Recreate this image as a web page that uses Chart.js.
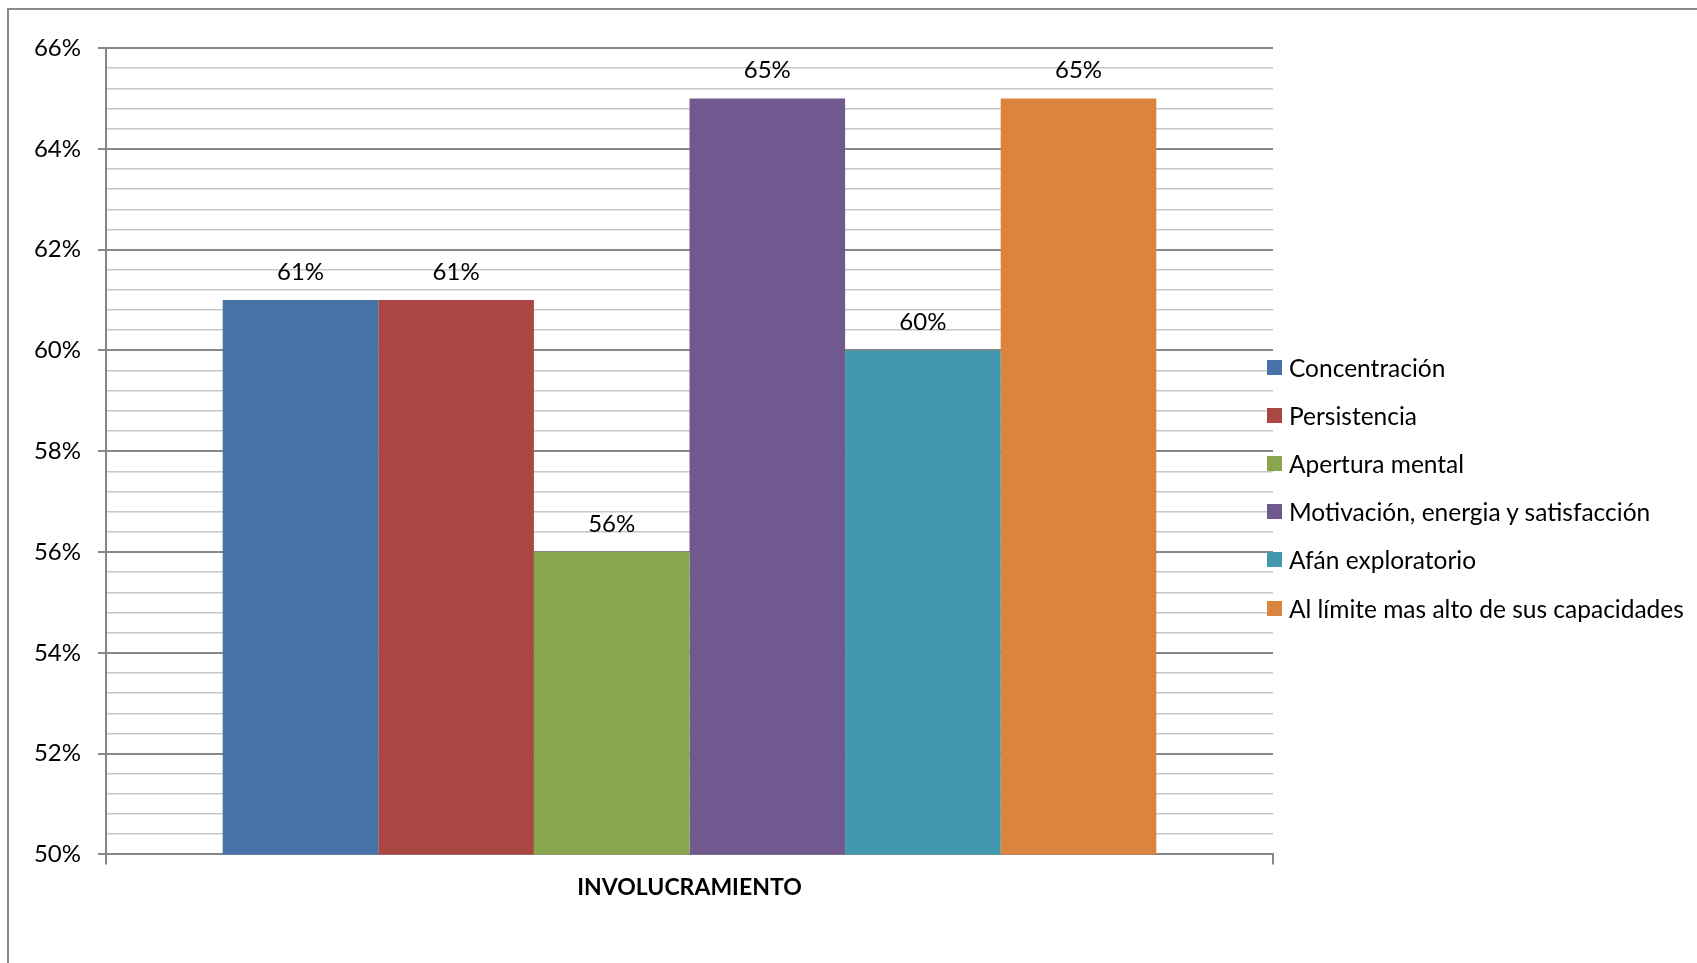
<!DOCTYPE html>
<html>
<head>
<meta charset="utf-8">
<script src="https://cdn.jsdelivr.net/npm/chart.js@4.4.1/dist/chart.umd.min.js"></script>
<style>
body { margin: 0; background: #fff; overflow: hidden; font-family: Lato, sans-serif; }
#frame { position: absolute; left: 7px; top: 8px; width: 1800px; height: 1100px;
         border-left: 2px solid #8a8a8a; border-top: 2px solid #8a8a8a; }
#chart { position: absolute; left: 0; top: 0; }
#legend { position: absolute; left: 1267px; top: 343px; margin: 0; padding: 0; list-style: none; }
#legend li { height: 48.2px; display: flex; align-items: center; font-size: 24.5px; color: #000; white-space: nowrap; }
#legend .box { width: 15px; height: 15px; margin-right: 7px; display: inline-block; }
</style>
</head>
<body>
<div id="frame"></div>
<canvas id="chart" width="1697" height="963"></canvas>
<ul id="legend"></ul>
<script>
const categories = ['INVOLUCRAMIENTO'];
const seriesNames = [
    'Concentración',
    'Persistencia',
    'Apertura mental',
    'Motivación, energia y satisfacción',
    'Afán exploratorio',
    'Al límite mas alto de sus capacidades'
];
const seriesValues = [61, 61, 56, 65, 60, 65];
const seriesColors = ['#4572A7', '#AA4643', '#89A54E', '#71588F', '#4198AF', '#DB843D'];
const yMin = 50, yMax = 66, yMajorStep = 2, yMinorStep = 0.4;

function isMajor(v) {
    return Math.abs(v / yMajorStep - Math.round(v / yMajorStep)) < 1e-6;
}

// value text above each bar
const valueLabels = {
    id: 'valueLabels',
    afterDatasetsDraw(chart) {
        const ctx = chart.ctx;
        ctx.save();
        ctx.font = '24px Lato';
        ctx.fillStyle = '#000';
        ctx.textAlign = 'center';
        ctx.textBaseline = 'middle';
        chart.data.datasets.forEach((ds, i) => {
            chart.getDatasetMeta(i).data.forEach((bar, j) => {
                ctx.fillText(ds.data[j] + '%', bar.x, bar.y - 28);
            });
        });
        ctx.restore();
    }
};

const datasets = seriesNames.map((name, i) => ({
    label: name,
    data: [seriesValues[i]],
    backgroundColor: seriesColors[i],
    borderWidth: 0,
    categoryPercentage: 0.8,
    barPercentage: 1.0
}));

const chart = new Chart(document.getElementById('chart').getContext('2d'), {
    type: 'bar',
    data: { labels: categories, datasets: datasets },
    plugins: [valueLabels],
    options: {
        responsive: false,
        animation: false,
        layout: { padding: { left: 10, top: 48, right: 424, bottom: 53 } },
        plugins: {
            legend: { display: false },
            tooltip: { enabled: false }
        },
        scales: {
            x: {
                offset: true,
                grid: {
                    display: true,
                    drawOnChartArea: false,
                    offset: true,
                    tickLength: 10,
                    color: '#868686',
                    lineWidth: 2
                },
                border: { display: true, color: '#868686', width: 2 },
                ticks: {
                    padding: 9,
                    color: '#000',
                    font: { family: 'Lato', size: 23, weight: 'bold' }
                }
            },
            y: {
                min: yMin,
                max: yMax,
                afterFit: s => { s.width = 96; },
                grid: {
                    color: c => isMajor(c.tick.value) ? '#878787' : '#C6C6C6',
                    lineWidth: c => isMajor(c.tick.value) ? 2 : 1.5,
                    tickColor: c => isMajor(c.tick.value) ? '#878787' : 'rgba(0,0,0,0)',
                    tickLength: 8
                },
                border: { display: true, color: '#868686', width: 2 },
                ticks: {
                    stepSize: yMinorStep,
                    autoSkip: false,
                    padding: 17,
                    color: '#000',
                    font: { family: 'Lato', size: 24 },
                    callback: v => isMajor(v) ? Math.round(v) + '%' : ''
                }
            }
        }
    }
});

// legend built from the chart's own labels
const legendEl = document.getElementById('legend');
Chart.defaults.plugins.legend.labels.generateLabels(chart).forEach(item => {
    const li = document.createElement('li');
    const box = document.createElement('span');
    box.className = 'box';
    box.style.background = item.fillStyle;
    li.appendChild(box);
    li.appendChild(document.createTextNode(item.text));
    legendEl.appendChild(li);
});
</script>
</body>
</html>
